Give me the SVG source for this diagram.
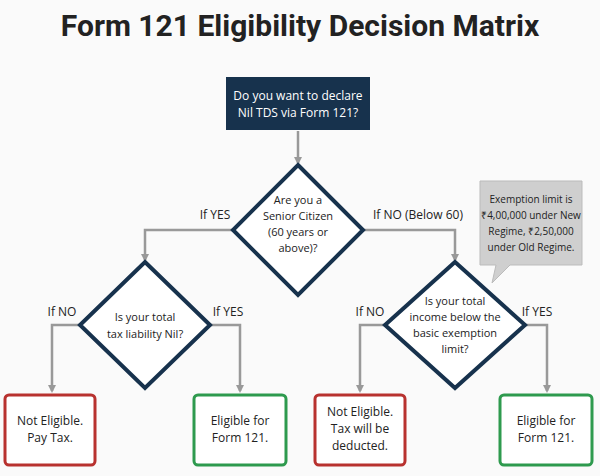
<svg xmlns="http://www.w3.org/2000/svg" width="600" height="476" viewBox="0 0 600 476">
<style>
text{font-family:"Open Sans","Liberation Sans",sans-serif;fill:#222;text-anchor:middle}
.t{font-size:11px}
.d{fill:#fff;stroke:#17324d;stroke-width:4}
.r{fill:#fff;stroke:#b8322f;stroke-width:3}
.g{fill:#fff;stroke:#2e9a4e;stroke-width:3}
.c{fill:none;stroke:#999;stroke-width:2.5;marker-end:url(#a)}
.l{font-size:12px}
</style>
<defs><marker id="a" markerWidth="8" markerHeight="8" refX="6" refY="4" orient="auto" markerUnits="userSpaceOnUse"><path d="M0,0L8,4L0,8z" fill="#999"/></marker></defs>
<rect width="600" height="476" fill="#fafafa"/>
<text x="300" y="36" style="font-size:30px;font-weight:bold;font-family:Roboto,'Liberation Sans',sans-serif" fill="#111">Form 121 Eligibility Decision Matrix</text>
<g id="connectors">
<path class="c" d="M298,131V163"/>
<path class="c" d="M233,230H145V260"/>
<path class="c" d="M363,230H455V260"/>
<path class="c" d="M80,325H52V391"/>
<path class="c" d="M210,325H240V391"/>
<path class="c" d="M385,325H360V391"/>
<path class="c" d="M525,325H547V391"/>
<text class="l" x="215" y="219">If YES</text>
<text class="l" x="418" y="219">If NO (Below 60)</text>
<text class="l" x="62" y="316">If NO</text>
<text class="l" x="228" y="316">If YES</text>
<text class="l" x="370" y="316">If NO</text>
<text class="l" x="537" y="316">If YES</text>
</g>
<g id="start"><rect x="226" y="77" width="144" height="53" fill="#17324d"/>
<text class="t" x="298" y="100" style="fill:#fff;font-size:12px">Do you want to declare</text><text class="t" x="298" y="117" style="fill:#fff;font-size:12px">Nil TDS via Form 121?</text></g>
<g id="senior"><path class="d" d="M298,165L363,230L298,295L233,230z"/>
<text class="t" x="298" y="204">Are you a</text><text class="t" x="298" y="220">Senior Citizen</text><text class="t" x="298" y="236">(60 years or</text><text class="t" x="298" y="252">above)?</text></g>
<g id="liability"><path class="d" d="M145,262L210,325L145,388L80,325z"/>
<text class="t" x="145" y="321">Is your total</text><text class="t" x="145" y="338">tax liability Nil?</text></g>
<g id="income"><path class="d" d="M455,262L525,325L455,388L385,325z"/>
<text class="t" x="455" y="305">Is your total</text><text class="t" x="455" y="321">income below the</text><text class="t" x="455" y="337">basic exemption</text><text class="t" x="455" y="353">limit?</text></g>
<g id="callout"><path d="M480,181H582V265H510L492,283L496,265H480z" fill="#cfcfcf" stroke="#bbb"/>
<text class="t" style="font-size:10px" x="531" y="203">Exemption limit is</text><text class="t" style="font-size:10px" x="531" y="219">₹4,00,000 under New</text><text class="t" style="font-size:10px" x="531" y="235">Regime, ₹2,50,000</text><text class="t" style="font-size:10px" x="531" y="251">under Old Regime.</text></g>
<g id="n1"><rect class="r" x="5" y="395" width="90" height="70" rx="4"/><text class="t" x="50" y="425" style="font-size:12px">Not Eligible.</text><text class="t" x="50" y="442" style="font-size:12px">Pay Tax.</text></g>
<g id="n2"><rect class="g" x="194" y="395" width="92" height="70" rx="4"/><text class="t" x="240" y="425" style="font-size:12px">Eligible for</text><text class="t" x="240" y="442" style="font-size:12px">Form 121.</text></g>
<g id="n3"><rect class="r" x="315" y="395" width="90" height="70" rx="4"/><text class="t" x="360" y="416" style="font-size:12px">Not Eligible.</text><text class="t" x="360" y="433" style="font-size:12px">Tax will be</text><text class="t" x="360" y="450" style="font-size:12px">deducted.</text></g>
<g id="n4"><rect class="g" x="500" y="395" width="92" height="70" rx="4"/><text class="t" x="546" y="425" style="font-size:12px">Eligible for</text><text class="t" x="546" y="442" style="font-size:12px">Form 121.</text></g>
</svg>
